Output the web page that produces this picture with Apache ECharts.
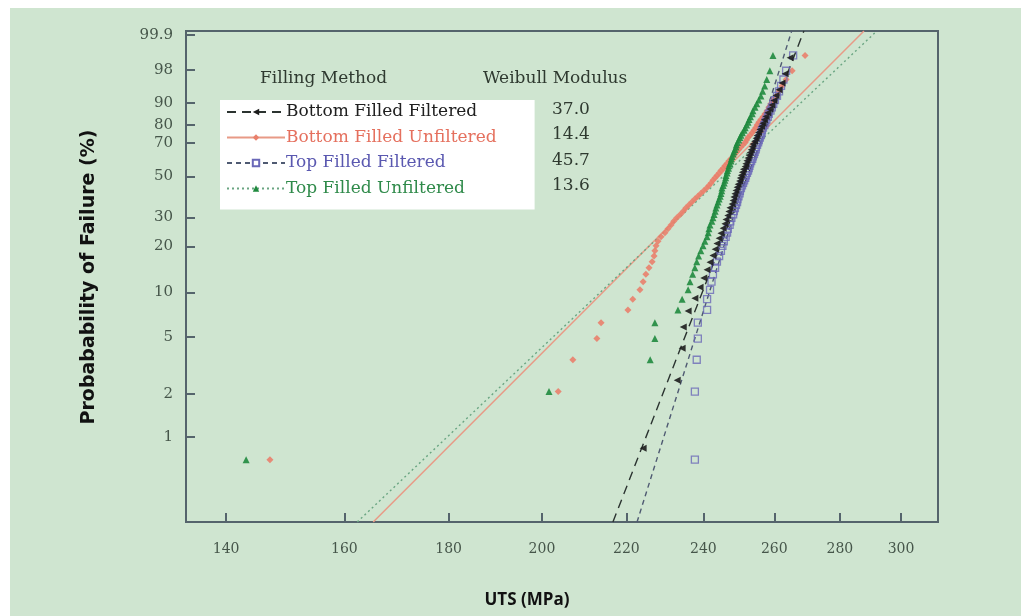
<!DOCTYPE html>
<html><head><meta charset="utf-8">
<script src="https://cdn.jsdelivr.net/npm/echarts@6/dist/echarts.min.js"></script>
<style>
html,body{margin:0;padding:0;background:#fff;}
#bg{position:absolute;left:10px;top:8px;width:1011px;height:608px;background:#cfe5d0;}
#chart{position:absolute;left:0;top:0;width:1031px;height:616px;}
</style></head><body>
<div id="bg"></div><div id="chart"></div>
<script>
// ---------------- data ----------------
const seriesNames = ['Bottom Filled Filtered', 'Bottom Filled Unfiltered', 'Top Filled Filtered', 'Top Filled Unfiltered'];
// UTS (MPa) of each tested bar, ranked
const bottomFilteredUTS = [
  224.2, 233.0, 234.3, 234.6, 235.9, 237.7, 239.1, 240.1, 241.0, 241.8,
  242.6, 243.2, 243.7, 244.3, 244.8, 245.4, 245.9, 246.2, 246.7, 247.0,
  247.3, 247.9, 248.2, 248.4, 248.7, 249.0, 249.3, 249.6, 250.0, 250.2,
  250.5, 250.8, 251.1, 251.6, 251.8, 252.1, 252.4, 252.7, 253.0, 253.3,
  253.6, 253.8, 254.3, 254.7, 255.0, 255.4, 255.8, 256.3, 256.7, 257.1,
  257.6, 258.1, 258.7, 259.3, 259.9, 260.5, 261.4, 262.3, 263.2, 264.7];
const bottomUnfilteredUTS = [
  147.1, 203.7, 207.1, 212.8, 213.8, 220.4, 221.6, 223.4, 224.2, 224.9,
  225.7, 226.5, 227.0, 227.2, 227.5, 228.0, 228.8, 229.8, 230.6, 231.4,
  232.1, 232.9, 233.8, 234.6, 235.3, 236.1, 236.9, 237.7, 238.5, 239.3,
  240.1, 240.9, 241.5, 242.1, 242.6, 243.2, 243.7, 244.3, 244.8, 245.4,
  245.9, 246.5, 247.0, 247.6, 248.2, 248.7, 249.3, 249.8, 250.4, 251.0,
  251.6, 252.0, 252.4, 253.0, 253.6, 254.1, 254.6, 255.0, 255.5, 256.1,
  256.7, 257.3, 257.9, 258.4, 259.0, 259.6, 260.5, 261.4, 262.3, 263.5,
  265.3, 269.2];
const topFilteredUTS = [
  237.7, 237.7, 238.2, 238.5, 238.5, 241.0, 241.0, 241.8, 242.2, 242.6,
  243.2, 243.7, 244.3, 244.8, 245.2, 245.6, 246.1, 246.5, 246.7, 247.2,
  247.4, 247.7, 248.2, 248.4, 248.7, 249.0, 249.3, 249.4, 249.7, 250.0,
  250.1, 250.4, 250.7, 251.0, 251.3, 251.6, 251.8, 252.1, 252.4, 252.6,
  252.8, 253.0, 253.3, 253.6, 253.8, 254.1, 254.3, 254.6, 254.7, 255.0,
  255.3, 255.5, 255.8, 256.1, 256.3, 256.4, 256.7, 257.1, 257.4, 257.7,
  258.1, 258.4, 258.9, 259.3, 259.7, 260.2, 260.8, 261.4, 262.0, 262.7,
  263.5, 265.6];
const topUnfilteredUTS = [
  143.2, 201.6, 226.0, 227.2, 227.2, 233.2, 234.3, 235.9, 236.4, 237.1,
  237.7, 238.2, 238.7, 239.3, 239.9, 240.4, 241.0, 241.3, 241.5, 241.8,
  242.3, 242.6, 242.9, 243.2, 243.4, 243.7, 244.0, 244.3, 244.6, 244.8,
  245.0, 245.1, 245.4, 245.7, 245.9, 246.1, 246.2, 246.5, 246.6, 246.9,
  247.0, 247.3, 247.6, 247.7, 247.9, 248.2, 248.4, 248.7, 249.0, 249.1,
  249.4, 249.8, 250.1, 250.4, 250.8, 251.3, 251.6, 252.0, 252.4, 252.7,
  253.1, 253.6, 253.8, 254.4, 254.9, 255.5, 256.1, 256.6, 257.2, 257.8,
  258.7, 259.6];
const weibullModulus = [37.0, 14.4, 45.7, 13.6];
const characteristicUTS = [254.7, 250.4, 253.8, 252.0];   // fitted scale parameter (63.2 %)
const probabilityTicks = [1, 2, 5, 10, 20, 30, 50, 70, 80, 90, 98, 99.9];
const utsTicks = [140, 160, 180, 200, 220, 240, 260, 280, 300];

// ---------------- helpers ----------------
const wb = p => Math.log(-Math.log(1 - p / 100));          // Weibull probability scale
const Y_MIN = -5.98, Y_MAX = 2.0;
const X_MIN = 133.8, X_MAX = 312.8;
const rankPoints = arr => arr.map((v, i) => [v, wb(100 * (i + 0.5) / arr.length)]);
const fitLine = (m, x0) => [[x0 * Math.exp(Y_MIN / m), Y_MIN], [x0 * Math.exp(Y_MAX / m), Y_MAX]];
const tickW = probabilityTicks.map(wb);

const samples = [bottomFilteredUTS, bottomUnfilteredUTS, topFilteredUTS, topUnfilteredUTS];
const colors = ['#1c1c1c', '#e9806c', '#6a68b8', '#1f8a3e'];
const lineColors = ['#2b3330', '#e89a86', '#4f5a72', '#6aa582'];
const lineTypes = [[9, 6], 'solid', [5, 4], [2, 3]];
const symbols = ['triangle', 'diamond', 'rect', 'triangle'];
const symbolRot = [90, 0, 0, 0];
const textColors = ['#202020', '#e5705e', '#5a58b0', '#2f8a4a'];

const series = [];
seriesNames.forEach((name, k) => {
  series.push({
    name, type: 'line', data: fitLine(weibullModulus[k], characteristicUTS[k]),
    showSymbol: false, symbol: symbols[k], symbolSize: 6, symbolRotate: symbolRot[k],
    itemStyle: { color: k === 2 ? '#fff' : colors[k], borderColor: colors[k], borderWidth: k === 2 ? 1 : 0 },
    lineStyle: { color: lineColors[k], width: k === 1 ? 1.5 : 1.4, type: lineTypes[k] },
    clip: true, silent: true, z: 2
  });
});
const order = [1, 2, 0, 3];
order.forEach(k => {
  series.push({
    name: seriesNames[k], type: 'scatter', data: rankPoints(samples[k]),
    symbol: symbols[k], symbolSize: 7, symbolRotate: symbolRot[k],
    itemStyle: k === 2 ? { color: 'rgba(0,0,0,0)', borderColor: colors[k], borderWidth: 1.3 }
                       : { color: colors[k], opacity: 0.9 },
    z: 3 + order.indexOf(k), silent: true
  });
});

const axisColor = '#55646c';
const labelColor = '#46564a';
const serifFont = '"DejaVu Serif", "Liberation Serif", serif';

const chart = echarts.init(document.getElementById('chart'), null, { renderer: 'canvas' });
chart.setOption({
  animation: false,
  backgroundColor: 'transparent',
  grid: { left: 186, top: 31, width: 752, height: 491, show: true, borderColor: axisColor, borderWidth: 2, backgroundColor: 'transparent' },
  xAxis: {
    type: 'log', logBase: 10, min: X_MIN, max: X_MAX,
    axisLine: { show: true, onZero: false, lineStyle: { color: axisColor, width: 2 } },
    axisTick: { show: true, inside: true, length: 9, customValues: utsTicks, lineStyle: { color: axisColor, width: 2 } },
    axisLabel: { customValues: utsTicks, margin: 20, color: labelColor, fontFamily: serifFont, fontSize: 14 },
    splitLine: { show: false }, minorTick: { show: false }
  },
  yAxis: {
    type: 'value', min: Y_MIN, max: Y_MAX,
    axisLine: { show: true, onZero: false, lineStyle: { color: axisColor, width: 2 } },
    axisTick: { show: true, inside: true, length: 9, customValues: tickW, lineStyle: { color: axisColor, width: 2 } },
    axisLabel: {
      customValues: tickW, margin: 13, color: labelColor, fontFamily: serifFont, fontSize: 15,
      formatter: v => {
        let best = 0;
        tickW.forEach((w, i) => { if (Math.abs(w - v) < Math.abs(tickW[best] - v)) best = i; });
        return String(probabilityTicks[best]);
      }
    },
    splitLine: { show: false }
  },
  legend: {
    orient: 'vertical', left: 220, top: 100, data: seriesNames.map((n, k) => ({ name: n, textStyle: { color: textColors[k] } })),
    backgroundColor: '#ffffff', padding: [3, 38, 12, 6], itemWidth: 58, itemHeight: 8, itemGap: 7.5,
    textStyle: { fontFamily: serifFont, fontSize: 17, lineHeight: 18, padding: [0, 0, 0, -4] },
    selectedMode: false, inactiveColor: '#999'
  },
  graphic: [
    { type: 'text', left: 260, top: 70, style: { text: 'Filling Method', font: '17px ' + serifFont, fill: '#2f3a30' } },
    { type: 'text', left: 483, top: 70, style: { text: 'Weibull Modulus', font: '17px ' + serifFont, fill: '#2f3a30' } },
    ...weibullModulus.map((m, k) => ({ type: 'text', left: 552, top: 101 + k * 25.5, style: { text: m.toFixed(1), font: '17px ' + serifFont, fill: '#2f3a30' } })),
    { type: 'text', x: 89, y: 277, rotation: Math.PI / 2, style: { text: 'Probabability of Failure (%)', font: 'bold 19px "DejaVu Sans", sans-serif', fill: '#111', align: 'center', verticalAlign: 'middle' } },
    { type: 'text', x: 527, y: 600, style: { text: 'UTS (MPa)', font: 'bold 17px "Open Sans", sans-serif', fill: '#111', align: 'center', verticalAlign: 'middle' } }
  ],
  series
});
</script>
</body></html>
